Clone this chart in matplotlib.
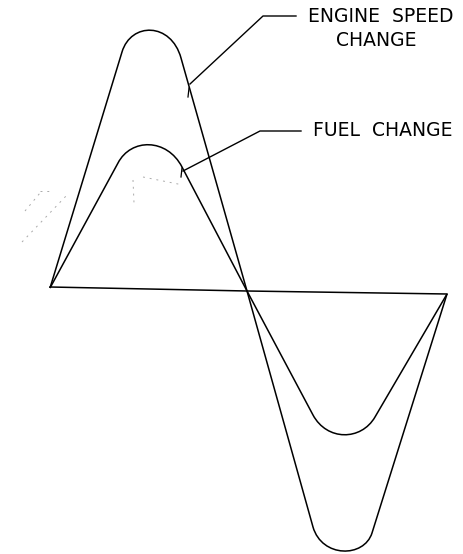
import matplotlib.pyplot as plt
from matplotlib.path import Path
from matplotlib.patches import PathPatch

# drawing coordinates (pixels, y down)
baseline_x = [50, 247, 447]
baseline_y = [287, 291, 294]

# engine speed change: lines joined by rounded crest / trough (cubic bezier)
engine_pts = [(50, 288), (122, 52), (131, 22), (171, 22), (181, 58),
              (247, 291), (313, 527), (322, 558), (364, 558), (372, 533),
              (447, 294)]
engine_codes = ['M', 'L', 'C', 'C', 'C', 'L', 'L', 'C', 'C', 'C', 'L']

# fuel change
fuel_pts = [(50, 288), (118, 163), (131, 138), (167, 138), (182, 167),
            (247, 291), (313, 415), (327, 441), (361, 441), (375, 417),
            (447, 294)]
fuel_codes = engine_codes

# leader lines to the labels
engine_leader_x = [190, 263, 296]
engine_leader_y = [84, 16, 16]
fuel_leader_x = [183, 260, 301]
fuel_leader_y = [171, 131, 131]

labels = ["ENGINE  SPEED", "CHANGE", "FUEL  CHANGE"]
label_x = [381, 376, 383]
label_y = [16, 41, 131]

# faint smudges from the scan
smudges = [([133, 134], [180, 203]), ([143, 183], [177, 185]),
           ([22, 67], [242, 195]), ([25, 40], [211, 193]), ([40, 50], [191, 191])]

codemap = {'M': Path.MOVETO, 'L': Path.LINETO, 'C': Path.CURVE4}


def curve(ax, pts, codes):
    p = Path(pts, [codemap[c] for c in codes])
    ax.add_patch(PathPatch(p, facecolor='none', edgecolor='black', lw=1.1))


fig = plt.figure(figsize=(4.64, 5.54), dpi=100)
ax = fig.add_axes([0, 0, 1, 1])
ax.set_xlim(0, 464)
ax.set_ylim(554, 0)
ax.axis('off')

ax.plot(baseline_x, baseline_y, color='black', lw=1.1)
curve(ax, engine_pts, engine_codes)
curve(ax, fuel_pts, fuel_codes)

ax.plot(engine_leader_x, engine_leader_y, color='black', lw=1.0)
ax.plot(fuel_leader_x, fuel_leader_y, color='black', lw=1.0)
ax.plot([189, 188], [88, 97], color='black', lw=0.9)
ax.plot([182, 181], [168, 177], color='black', lw=0.9)

for sx, sy in smudges:
    ax.plot(sx, sy, color='#aaaaaa', lw=0.7, ls=(0, (2, 5)))

for t, x, y in zip(labels, label_x, label_y):
    ax.text(x, y, t, ha='center', va='center', fontsize=13.5, color='black')

fig.savefig('out.png', dpi=100)
